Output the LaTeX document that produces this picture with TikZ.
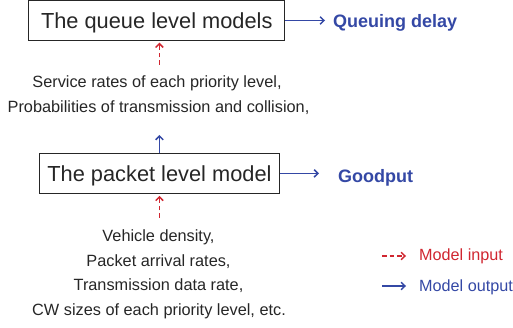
\documentclass[tikz,border=0pt]{standalone}
\usepackage{fontspec}
\setmainfont{Liberation Sans}
\usetikzlibrary{arrows.meta}
\definecolor{inred}{RGB}{208,38,48}
\definecolor{outblue}{RGB}{52,72,165}
\definecolor{ink}{RGB}{38,38,38}

\begin{document}
\begin{tikzpicture}[x=1pt,y=-1pt,
  model/.style={draw=ink, line width=0.9pt, inner sep=0pt, minimum width=#1,
    text height=27.6pt, text depth=11.7pt, text=ink,
    font=\fontsize{21.8}{24}\selectfont},
  intext/.style={inner sep=0pt, text=ink, font=\fontsize{16.3}{20}\selectfont},
  outlbl/.style={inner sep=0pt, text=outblue, font=\fontsize{18}{20}\selectfont\bfseries},
  legendlbl/.style={inner sep=0pt, font=\fontsize{16.2}{20}\selectfont},
  tip/.style={-{Straight Barb[length=3.8pt,width=7.5pt]}},
  inarrow/.style={tip, draw=inred, line width=1.5pt, dash pattern=on 4.5pt off 3pt},
  outarrow/.style={tip, draw=outblue, line width=1.5pt}]
\useasboundingbox (0,0) rectangle (513,328);

% the two model boxes
\node[model=256pt, anchor=north west] (queue) at (28.3,0.4) {The queue level models};
\node[model=240.6pt, anchor=north west] (packet) at (38.7,153.3) {The packet level model};

% outputs of each model
\node[outlbl, anchor=base west] (qd) at (333,27.7) {Queuing delay};
\node[outlbl, anchor=base west] (gp) at (338,182.3) {Goodput};
\draw[outarrow, shorten >=8pt] (queue.east) -- (queue.east -| qd.west);
\draw[outarrow, shorten >=19pt] (packet.east) -- (packet.east -| gp.west);

% quantities passed from the packet level to the queue level
\node[intext, anchor=base] (svc1) at (157,88) {Service rates of each priority level,};
\node[intext, anchor=base] (svc2) at (158.5,112.7) {Probabilities of transmission and collision,};
\draw[inarrow, shorten <=11pt, shorten >=2pt] (svc1.north -| packet.north) -- (queue.south -| packet.north);
\draw[outarrow, shorten >=20pt] (packet.north) -- (packet.north |- svc2.south);

% inputs of the packet level model
\node[intext, anchor=base] (inp1) at (158.5,242) {Vehicle density,};
\node[intext, anchor=base] (inp2) at (158.5,266.3) {Packet arrival rates,};
\node[intext, anchor=base] (inp3) at (158.5,290.6) {Transmission data rate,};
\node[intext, anchor=base] (inp4) at (159,315) {CW sizes of each priority level, etc.};
\draw[inarrow, shorten <=12pt, shorten >=2.3pt] (inp1.north -| packet.south) -- (packet.south);

% legend
\coordinate (inA) at (382,256);
\coordinate (inB) at (406,256);
\coordinate (outA) at (382,286);
\coordinate (outB) at (406,286);
\draw[inarrow] (inA) -- (inB);
\draw[outarrow] (outA) -- (outB);
\node[legendlbl, text=inred, anchor=base west] (inlbl) at (419,260.7) {Model input};
\node[legendlbl, text=outblue, anchor=base west] (outlbl) at (419,291.7) {Model output};
\end{tikzpicture}
\end{document}
